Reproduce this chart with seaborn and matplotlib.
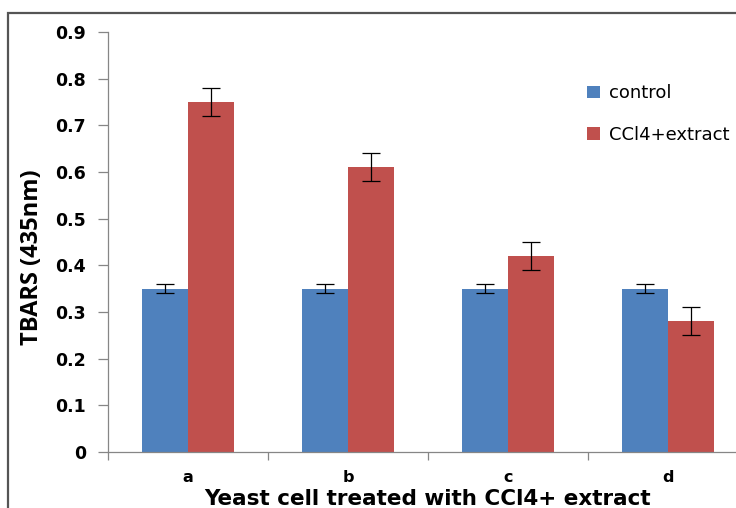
import matplotlib
matplotlib.use("Agg")
import matplotlib.pyplot as plt
import matplotlib.transforms as mtransforms
import seaborn as sns
import pandas as pd
from matplotlib.patches import Rectangle

categories = ["a", "b", "c", "d"]
control_vals = [0.35, 0.35, 0.35, 0.35]
control_err = [0.01, 0.01, 0.01, 0.01]
extract_vals = [0.75, 0.61, 0.42, 0.28]
extract_err = [0.03, 0.03, 0.03, 0.03]
series_names = ["control", "CCl4+extract"]
yticks = [0, 0.1, 0.2, 0.3, 0.4, 0.5, 0.6, 0.7, 0.8, 0.9]

sns.set_style("white")
plt.rcParams['font.family'] = ['DejaVu Sans']
plt.rcParams['text.color'] = 'black'
plt.rcParams['axes.labelcolor'] = 'black'
plt.rcParams['xtick.labelcolor'] = 'black'
plt.rcParams['ytick.labelcolor'] = 'black'

df = pd.DataFrame({
    "cat": categories * 2,
    "series": [series_names[0]] * 4 + [series_names[1]] * 4,
    "val": control_vals + extract_vals,
    "err": control_err + extract_err,
})

fig = plt.figure(figsize=(7.36, 5.08), dpi=100)
ax = fig.add_axes([108/736, 56/508, 640/736, 420/508])

palette = {"control": "#4F81BD", "CCl4+extract": "#C0504D"}
sns.barplot(data=df, x="cat", y="val", hue="series", palette=palette,
            width=0.575, gap=0, errorbar=None, saturation=1, ax=ax,
            edgecolor="none", linewidth=0)

errs = [control_err, extract_err]
bar_containers = list(ax.containers)
for i, cont in enumerate(bar_containers):
    xs = [p.get_x() + p.get_width() / 2 for p in cont.patches]
    hs = [p.get_height() for p in cont.patches]
    ax.errorbar(xs, hs, yerr=errs[i], fmt="none", ecolor="black",
                elinewidth=0.9, capsize=6.5, capthick=0.9)

ax.set_ylim(0, 0.9)
ax.set_xlim(-0.5, 3.5)
ax.set_yticks(yticks)
ax.set_yticklabels([("%g" % t) for t in yticks], fontweight="bold", fontsize=12.5)
ax.tick_params(axis="y", length=7, width=0.9, color="#868686", direction="out", left=True, pad=9)
ax.set_xticks(range(len(categories)))
ax.set_xticklabels(categories, fontweight="bold", fontsize=11.5)
ax.tick_params(axis="x", length=0, pad=13)
ax.set_xticks([-0.5, 0.5, 1.5, 2.5, 3.5], minor=True)
ax.tick_params(axis="x", which="minor", length=6, width=0.9, color="#868686", direction="out", bottom=True)

for s in ["top", "right"]:
    ax.spines[s].set_visible(False)
for s in ["left", "bottom"]:
    ax.spines[s].set_color("#868686")
    ax.spines[s].set_linewidth(0.9)

ax.set_ylabel("TBARS (435nm)", fontweight="bold", fontsize=17, family=["Open Sans", "DejaVu Sans"])
ax.yaxis.set_label_coords(32/736, 1 - 257/508, transform=fig.transFigure)
ax.yaxis.label.set_verticalalignment("center")
ax.set_xlabel("Yeast cell treated with CCl4+ extract", fontweight="bold", fontsize=15.5)
ax.xaxis.set_label_coords(0.5, 1 - 499/508,
                          transform=mtransforms.blended_transform_factory(ax.transAxes, fig.transFigure))
ax.xaxis.label.set_verticalalignment("center")

leg = ax.legend(loc="upper left", bbox_to_anchor=(580/736, 1 - 77/508),
                bbox_transform=fig.transFigure, frameon=False, fontsize=13,
                handlelength=0.68, handleheight=0.68, labelspacing=1.3, handletextpad=0.5,
                borderaxespad=0)
leg.set_title(None)

fig.patches.append(Rectangle((8/736, -0.1), 1.2, 1 - 13/508 + 0.1, transform=fig.transFigure,
                             fill=False, edgecolor="#555555", linewidth=1.6))

fig.savefig("out.png", dpi=100)
